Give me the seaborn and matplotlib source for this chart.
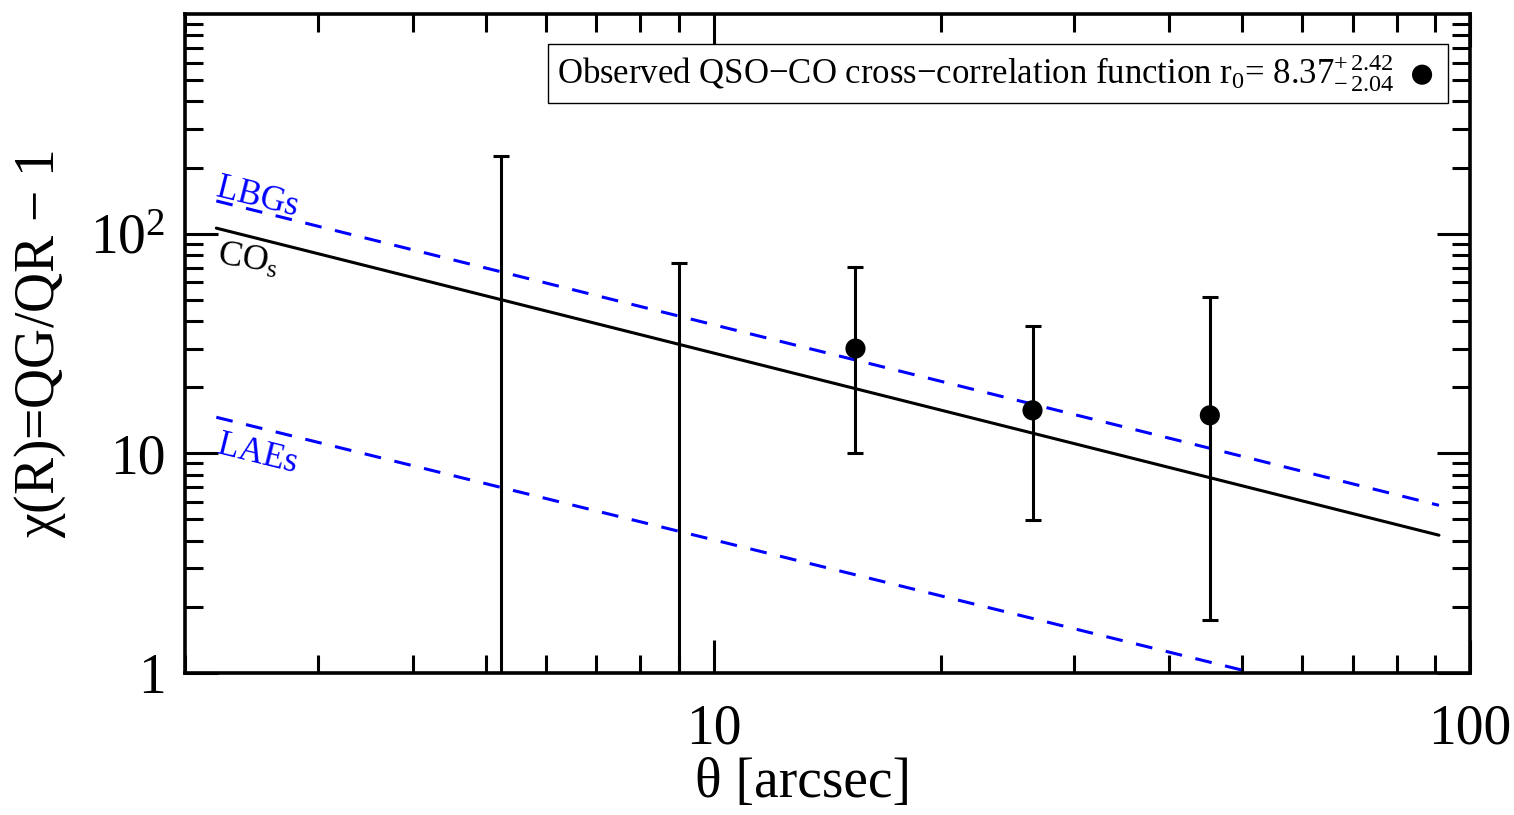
import numpy as np
import pandas as pd
import matplotlib
matplotlib.use("Agg")
import matplotlib.pyplot as plt
import seaborn as sns
from matplotlib.ticker import LogLocator, FixedLocator, FixedFormatter, NullFormatter

# ---- data ----
theta = [5.24, 8.99, 15.4, 26.4, 45.3]          # arcsec
chi = [0.5, 0.5, 30.0, 15.7, 14.9]              # centre values (first two off-chart)
chi_up = [226.0, 73.8, 70.8, 37.8, 51.7]        # upper error end
chi_lo = [0.05, 0.05, 10.0, 4.96, 1.74]         # lower error end
shown = [False, False, True, True, True]        # points with a visible marker

line_x = [2.2, 91.0]
co_y = [106.0, 4.24]
lbg_y = [141.0, 5.8]
lae_x = [2.2, 91.0]
lae_y = [14.6, 0.62]

xlim = (2, 100)
ylim = (1, 1000)
xticks = [10, 100]
xticklabels = ["10", "100"]
yticks = [1, 10, 100]
yticklabels = ["1", "10", r"10$^2$"]

legend_label = r"Observed QSO$-$CO cross$-$correlation function r$_0$= 8.37$^{+\,2.42}_{-\,2.04}$"

sns.set_theme(style="ticks")
plt.rcParams["font.family"] = ["Liberation Serif", "DejaVu Serif"]
plt.rcParams["mathtext.fontset"] = "custom"
plt.rcParams["mathtext.rm"] = "Liberation Serif"
plt.rcParams["mathtext.it"] = "Liberation Serif:italic"
plt.rcParams["mathtext.default"] = "regular"
for k in ["text.color", "axes.labelcolor", "xtick.color", "ytick.color", "axes.edgecolor"]:
    plt.rcParams[k] = "black"

fig = plt.figure(figsize=(15.14, 8.15), dpi=100)
ax = fig.add_axes([0.1222, 0.1742, 0.9709 - 0.1222, 0.9828 - 0.1742])

# model lines
sns.lineplot(x=line_x, y=co_y, ax=ax, color="black", lw=2.2)
sns.lineplot(x=line_x, y=lbg_y, ax=ax, color="#0000ff", lw=2.2)
ax.lines[-1].set_dashes((5.5, 4.5))
sns.lineplot(x=lae_x, y=lae_y, ax=ax, color="#0000ff", lw=2.2)
ax.lines[-1].set_dashes((5.5, 4.5))

# error bars
yerr = np.array([np.array(chi) - np.array(chi_lo), np.array(chi_up) - np.array(chi)])
ax.errorbar(theta, chi, yerr=yerr, fmt="none", ecolor="black", elinewidth=2.2,
            capsize=6, capthick=2.2, zorder=3)

df = pd.DataFrame({"theta": theta, "chi": chi, "shown": shown})
sns.scatterplot(data=df[df["shown"]], x="theta", y="chi", ax=ax, color="black",
                s=210, edgecolor="none", label=legend_label, zorder=4)

ax.set_xscale("log")
ax.set_yscale("log")
ax.set_xlim(*xlim)
ax.set_ylim(*ylim)

ax.xaxis.set_major_locator(FixedLocator(xticks))
ax.xaxis.set_major_formatter(FixedFormatter(xticklabels))
ax.xaxis.set_minor_locator(LogLocator(base=10, subs=np.arange(2, 10)))
ax.xaxis.set_minor_formatter(NullFormatter())
ax.yaxis.set_major_locator(FixedLocator(yticks))
ax.yaxis.set_major_formatter(FixedFormatter(yticklabels))
ax.yaxis.set_minor_locator(LogLocator(base=10, subs=np.arange(2, 10)))
ax.yaxis.set_minor_formatter(NullFormatter())

ax.tick_params(which="both", direction="in", top=True, right=True, width=2.2, color="black")
ax.tick_params(which="major", length=24)
ax.tick_params(which="minor", length=13)
ax.tick_params(axis="x", which="major", pad=22, labelsize=40)
ax.tick_params(axis="y", which="major", pad=14, labelsize=40)
for sp in ax.spines.values():
    sp.set_linewidth(2.6)
    sp.set_color("black")
    sp.set_visible(True)

ax.set_xlabel(r"θ [arcsec]", fontsize=40)
ax.xaxis.set_label_coords(0.481, -0.128)
ax.set_ylabel(r"χ(R)=QG/QR $-$ 1", fontsize=40, labelpad=16)

ax.text(2.19, 149, "LBGs", color="#0000ff", fontsize=25, rotation=-14,
        rotation_mode="anchor", ha="left", va="baseline")
ax.text(2.2, 73, r"CO$_\mathregular{s}$", color="black", fontsize=26, rotation=-9,
        rotation_mode="anchor", ha="left", va="baseline")
ax.text(2.2, 10, "LAEs", color="#0000ff", fontsize=25, rotation=-14,
        rotation_mode="anchor", ha="left", va="baseline")

leg = ax.legend(loc="upper right", bbox_to_anchor=(0.983, 0.955), markerfirst=False,
                fontsize=25, frameon=True, fancybox=False, framealpha=1,
                handletextpad=0.3, borderpad=0.25, handlelength=1.0, borderaxespad=0)
leg.get_frame().set_edgecolor("black")
leg.get_frame().set_linewidth(1.0)

fig.savefig("out.png", dpi=100, facecolor="white")
